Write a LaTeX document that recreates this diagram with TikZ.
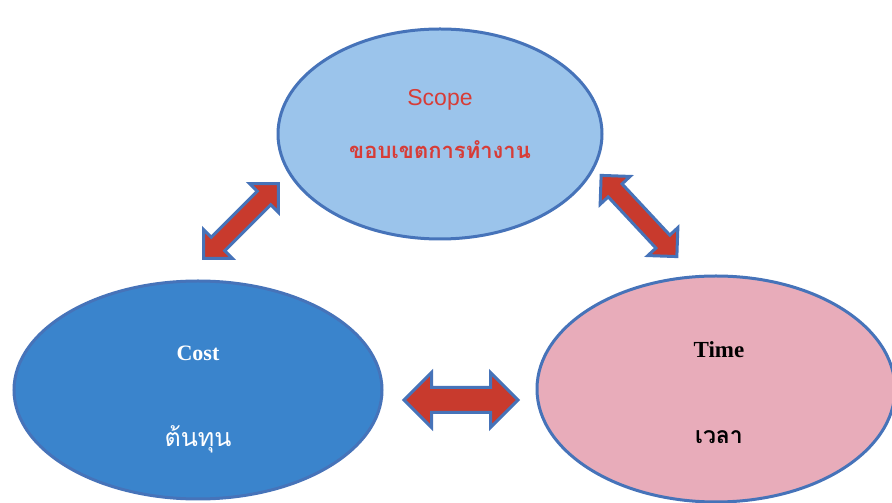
\documentclass[tikz,border=0pt]{standalone}
\usepackage{fontspec}
\setmainfont{Liberation Serif}
\newfontfamily\arialf{Liberation Sans}
\newfontfamily\thaif[Script=Thai]{Loma}
\usetikzlibrary{shapes.geometric,shapes.arrows}
\definecolor{edgeblue}{RGB}{70,115,185}
\definecolor{scopefill}{RGB}{155,196,235}
\definecolor{costfill}{RGB}{58,132,204}
\definecolor{timefill}{RGB}{232,172,186}
\definecolor{arrowred}{RGB}{200,58,45}
\definecolor{scopetext}{RGB}{215,60,55}
\tikzset{
  oval/.style={ellipse, draw=edgeblue, line width=3pt, inner sep=0pt},
  dblarrow/.style={double arrow, draw=edgeblue, fill=arrowred, line width=3pt,
    inner xsep=0pt, inner ysep=8pt, double arrow head extend=11pt, minimum width=38pt},
}
\begin{document}
\begin{tikzpicture}[x=1pt,y=1pt]
\useasboundingbox (0,0) rectangle (892,503);
\fill[white] (0,0) rectangle (892,503);
\node[oval, fill=scopefill, minimum width=324pt, minimum height=210pt] (scope) at (440,369) {};
\node[oval, fill=costfill, minimum width=368pt, minimum height=218pt] (cost) at (198,113) {};
\node[oval, fill=timefill, minimum width=358pt, minimum height=226pt] (time) at (716,114) {};
\node[text=scopetext, font=\arialf\fontsize{23}{27}\selectfont] (scopeen) at (440,403) {Scope};
\node[text=scopetext, font=\thaif\bfseries\fontsize{22}{26}\selectfont] (scopeth) at (440,353) {ขอบเขตการทำงาน};
\node[text=white, font=\bfseries\fontsize{22}{26}\selectfont] (costen) at (198,150) {Cost};
\node[text=white, font=\thaif\fontsize{25}{29}\selectfont] (costth) at (198,64) {ต้นทุน};
\node[text=black, font=\bfseries\fontsize{23}{27}\selectfont] (timeen) at (719,153) {Time};
\node[text=black, font=\thaif\bfseries\fontsize{23}{27}\selectfont] (timeth) at (719,66) {เวลา};
\node[dblarrow, minimum height=106pt, rotate=45] (a1) at (241,282) {};
\node[dblarrow, minimum height=111pt, rotate=-47] (a2) at (639,287) {};
\node[dblarrow, minimum height=114pt, minimum width=54pt, inner ysep=11pt, double arrow head extend=15pt] (a3) at (461,103) {};
\end{tikzpicture}
\end{document}
